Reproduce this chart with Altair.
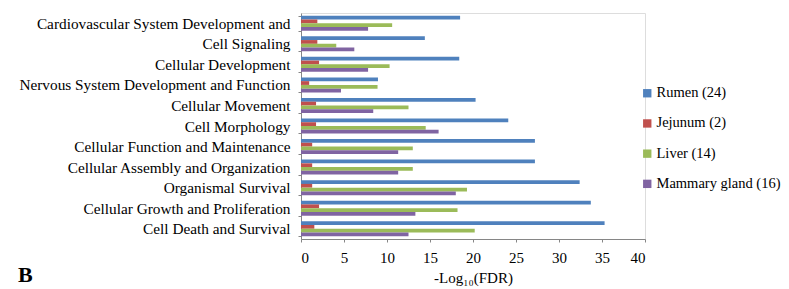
import altair as alt
import pandas as pd

categories = [
    "Cardiovascular System Development and",
    "Cell Signaling",
    "Cellular Development",
    "Nervous System Development and Function",
    "Cellular Movement",
    "Cell Morphology",
    "Cellular Function and Maintenance",
    "Cellular Assembly and Organization",
    "Organismal Survival",
    "Cellular Growth and Proliferation",
    "Cell Death and Survival",
]
series = ["Rumen (24)", "Jejunum (2)", "Liver (14)", "Mammary gland (16)"]
colors = ["#4F81BD", "#C0504D", "#9BBB59", "#8064A2"]

rumen = [18.5, 14.4, 18.4, 8.95, 20.3, 24.1, 27.2, 27.2, 32.4, 33.7, 35.3]
jejunum = [1.9, 1.9, 2.1, 0.95, 1.75, 1.75, 1.3, 1.3, 1.3, 2.1, 1.55]
liver = [10.6, 4.1, 10.3, 8.9, 12.5, 14.5, 13.0, 13.0, 19.3, 18.2, 20.2]
mammary = [7.8, 6.2, 7.8, 4.65, 8.4, 16.0, 11.3, 11.3, 18.0, 13.3, 12.5]

rows = []
for s, vals in zip(series, [rumen, jejunum, liver, mammary]):
    for c, v in zip(categories, vals):
        rows.append({"Category": c, "Series": s, "Value": v})
df = pd.DataFrame(rows)

font = "Liberation Serif"

bars = alt.Chart(df).mark_bar().encode(
    y=alt.Y("Category:N", sort=categories,
            scale=alt.Scale(paddingInner=0.27, paddingOuter=0.135),
            axis=alt.Axis(title=None, tickBand="extent", labelFont=font,
                          labelFontSize=15.3, labelColor="black", labelPadding=8,
                          domainColor="#868686", tickColor="#868686", tickSize=3,
                          labelLimit=400)),
    yOffset=alt.YOffset("Series:N", sort=series),
    x=alt.X("Value:Q", scale=alt.Scale(domain=[0, 40], nice=False),
            axis=alt.Axis(title="-Log₁₀(FDR)", values=list(range(0, 41, 5)),
                          grid=False, labelFont=font, labelFontSize=15,
                          labelColor="black", titleFont=font, titleFontSize=15,
                          titleFontWeight="normal", titleColor="black",
                          domainColor="#868686", tickColor="#868686", tickSize=3,
                          labelPadding=8, titlePadding=5)),
    color=alt.Color("Series:N", sort=series,
                    scale=alt.Scale(domain=series, range=colors),
                    legend=alt.Legend(title=None, orient="none", legendX=339, legendY=73,
                                      labelFont=font, labelFontSize=14.5,
                                      labelColor="black", symbolType="square",
                                      symbolSize=70, rowPadding=15.2,
                                      labelOffset=2, symbolStrokeWidth=0,
                                      labelLimit=300)),
)

label = alt.Chart(pd.DataFrame({"t": ["B"]})).mark_text(
    font=font, fontSize=22, fontWeight="bold", align="left", baseline="alphabetic",
    color="black"
).encode(text="t:N", x=alt.value(-283), y=alt.value(269))

chart = alt.layer(bars, label).properties(
    width=344, height=226,
    autosize=alt.AutoSizeParams(type="none"),
    padding={"left": 293, "top": 5, "right": 136, "bottom": 48},
).configure_view(stroke=None).configure(background="white")

chart.save("out.html", embed_options={"renderer": "svg", "actions": False})
